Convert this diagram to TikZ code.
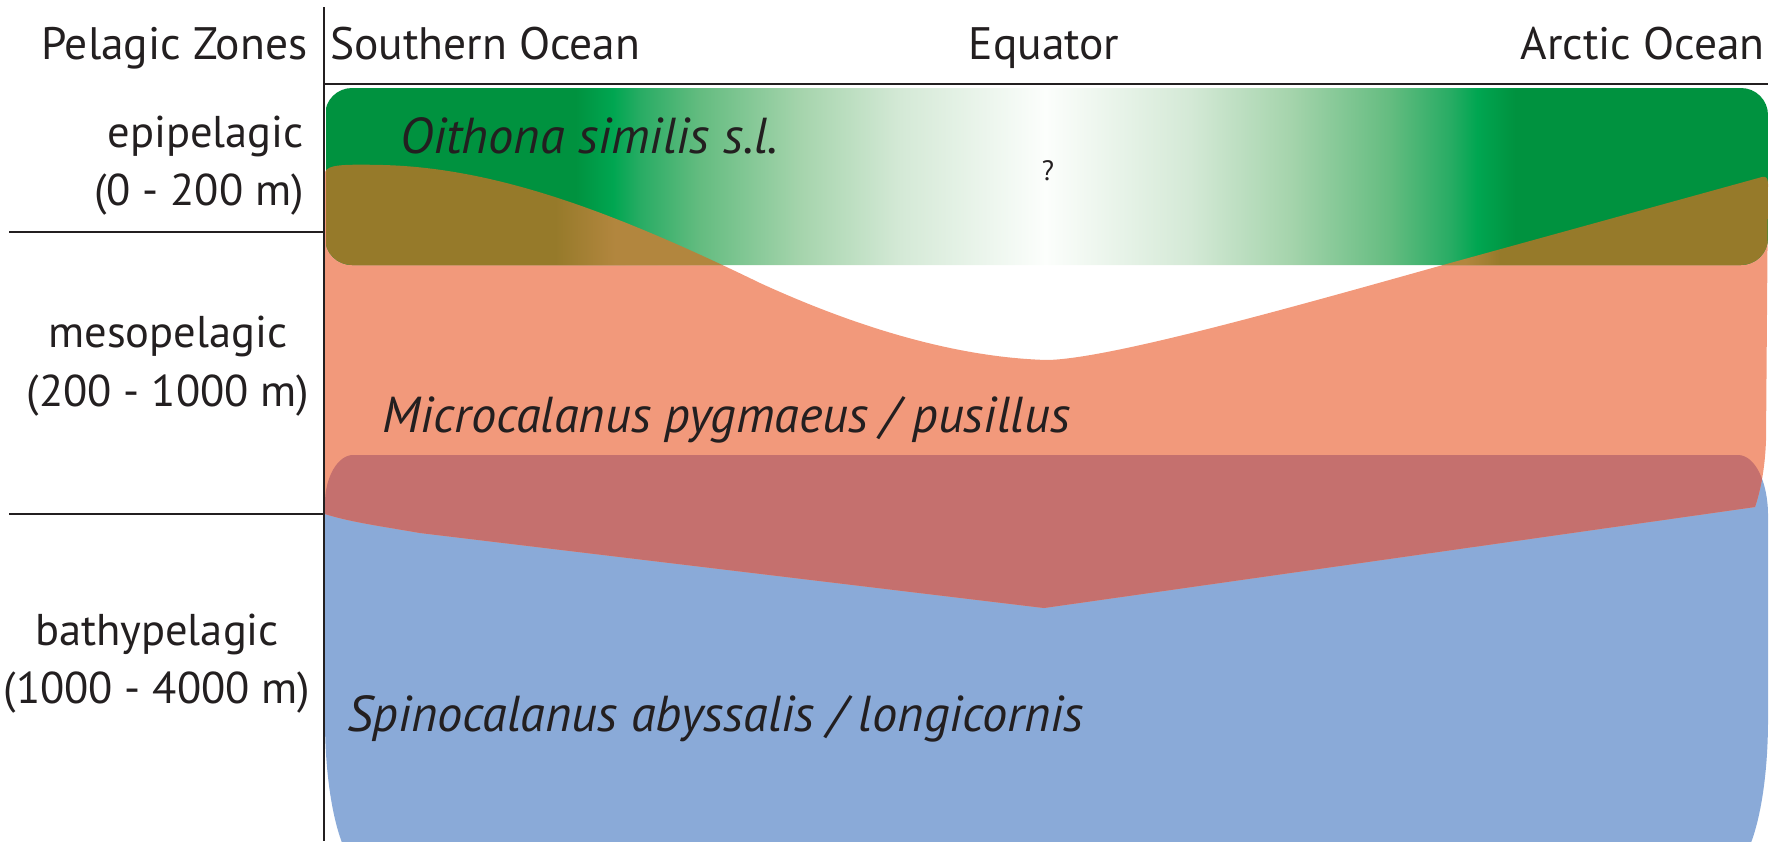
\documentclass[tikz,border=0pt]{standalone}
\usepackage{fontspec}
\setmainfont{PT Sans}
\definecolor{txt}{RGB}{35,31,32}
\definecolor{dkgreen}{RGB}{0,146,63}
\definecolor{brgreen}{RGB}{0,166,81}
\definecolor{ga}{RGB}{40,172,100}
\definecolor{gb}{RGB}{100,188,128}
\definecolor{gc}{RGB}{165,212,172}
\definecolor{gd}{RGB}{212,233,214}
\definecolor{ge}{RGB}{252,254,252}
\definecolor{dkbrown}{RGB}{150,122,42}
\definecolor{ltbrown}{RGB}{178,134,62}
\definecolor{salmonC}{RGB}{242,153,123}
\definecolor{blueC}{RGB}{138,170,216}
\definecolor{redC}{RGB}{197,112,110}
\pgfdeclarehorizontalshading{greenfade}{177pt}{%
color(0pt)=(dkgreen); color(250pt)=(dkgreen); color(288pt)=(brgreen);
color(315pt)=(ga); color(375pt)=(gb); color(475pt)=(gc); color(575pt)=(gd);
color(720pt)=(ge); color(865pt)=(gd); color(965pt)=(gc); color(1065pt)=(gb);
color(1125pt)=(ga); color(1152pt)=(brgreen); color(1190pt)=(dkgreen);
color(1443pt)=(dkgreen)}
\pgfdeclarehorizontalshading{brownfade}{177pt}{%
color(0pt)=(dkbrown); color(230pt)=(dkbrown); color(290pt)=(ltbrown);
color(1140pt)=(ltbrown); color(1175pt)=(dkbrown); color(1443pt)=(dkbrown)}
\newcommand\salmonpath{(325,172) .. controls (328,165) and (340,164) .. (383,165)
 .. controls (500,168) and (620,215) .. (760,283)
 .. controls (880,338) and (975,358) .. (1047,360)
 .. controls (1110,359) and (1300,305) .. (1443,265)
 -- (1762,177) .. controls (1766,176) and (1768,178) .. (1768,184)
 -- (1766,440) .. controls (1765,470) and (1760,492) .. (1755,507)
 -- (1044,608) -- (420,533) .. controls (380,526) and (350,522) .. (325,514) -- cycle}
\newcommand\bluepath{(325,503) .. controls (325,477) and (338,455) .. (353,455)
 -- (1738,455) .. controls (1755,455) and (1768,482) .. (1768,515)
 -- (1768,720) .. controls (1768,803) and (1750,870) .. (1728,870)
 -- (365,870) .. controls (343,870) and (325,803) .. (325,720) -- cycle}
\begin{document}
\begin{tikzpicture}[x=1pt,y=-1pt,
  every node/.style={inner sep=0pt, text=txt, font=\fontsize{45.5}{53}\selectfont},
  zone/.style={font=\fontsize{44.5}{53}\selectfont},
  species/.style={font=\fontsize{50.5}{58}\selectfont\itshape},
  axisline/.style={draw=txt, line width=2pt}]
\useasboundingbox (0,0) rectangle (1783,841);
\clip (0,0) rectangle (1783,841);
% blue: Spinocalanus
\fill[blueC] \bluepath;
% salmon: Microcalanus
\fill[salmonC] \salmonpath;
% green: Oithona
\begin{scope}
\clip[rounded corners=27pt] (325,88) rectangle (1768,265);
\node[anchor=north west] (gshade) at (325,88) {\pgfuseshading{greenfade}};
\end{scope}
% overlap green/salmon
\begin{scope}
\clip \salmonpath;
\clip[rounded corners=27pt] (325,88) rectangle (1768,265);
\node[anchor=north west] (bshade) at (325,88) {\pgfuseshading{brownfade}};
\end{scope}
% overlap salmon/blue
\begin{scope}
\clip \salmonpath;
\fill[redC] \bluepath;
\end{scope}
% axis lines
\coordinate (vtop) at (323.5,7);
\coordinate (vbot) at (323.5,841);
\coordinate (htl) at (323.5,84);
\coordinate (htr) at (1768,84);
\coordinate (l1a) at (9,232);
\coordinate (l1b) at (323.5,232);
\coordinate (l2a) at (9,514);
\coordinate (l2b) at (323.5,514);
\draw[axisline] (vtop) -- (vbot);
\draw[axisline] (htl) -- (htr);
\draw[axisline] (l1a) -- (l1b);
\draw[axisline] (l2a) -- (l2b);
% header
\node[anchor=base west] (pz) at (41,59) {Pelagic Zones};
\node[anchor=base west] (so) at (330,59) {Southern Ocean};
\node[anchor=base] (eq) at (1044,59) {Equator};
\node[anchor=base east] (ao) at (1765,59) {Arctic Ocean};
% zones
\node[zone, anchor=base east] (epi) at (304,147) {epipelagic};
\node[zone, anchor=base east] (epid) at (304,205) {(0 - 200 m)};
\node[zone, anchor=base] (meso) at (168,347) {mesopelagic};
\node[zone, anchor=base] (mesod) at (168,406) {(200 - 1000 m)};
\node[zone, anchor=base] (bathy) at (157,645) {bathypelagic};
\node[zone, anchor=base] (bathyd) at (157,703) {(1000 - 4000 m)};
% species
\node[species, anchor=base west] (oith) at (400,153) {Oithona similis s.l.};
\node[anchor=base, font=\fontsize{28}{32}\selectfont] (q) at (1048,180) {?};
\node[species, anchor=base west] (micro) at (382,432) {Microcalanus pygmaeus / pusillus};
\node[species, anchor=base west] (spino) at (347,731) {Spinocalanus abyssalis / longicornis};
\end{tikzpicture}
\end{document}
